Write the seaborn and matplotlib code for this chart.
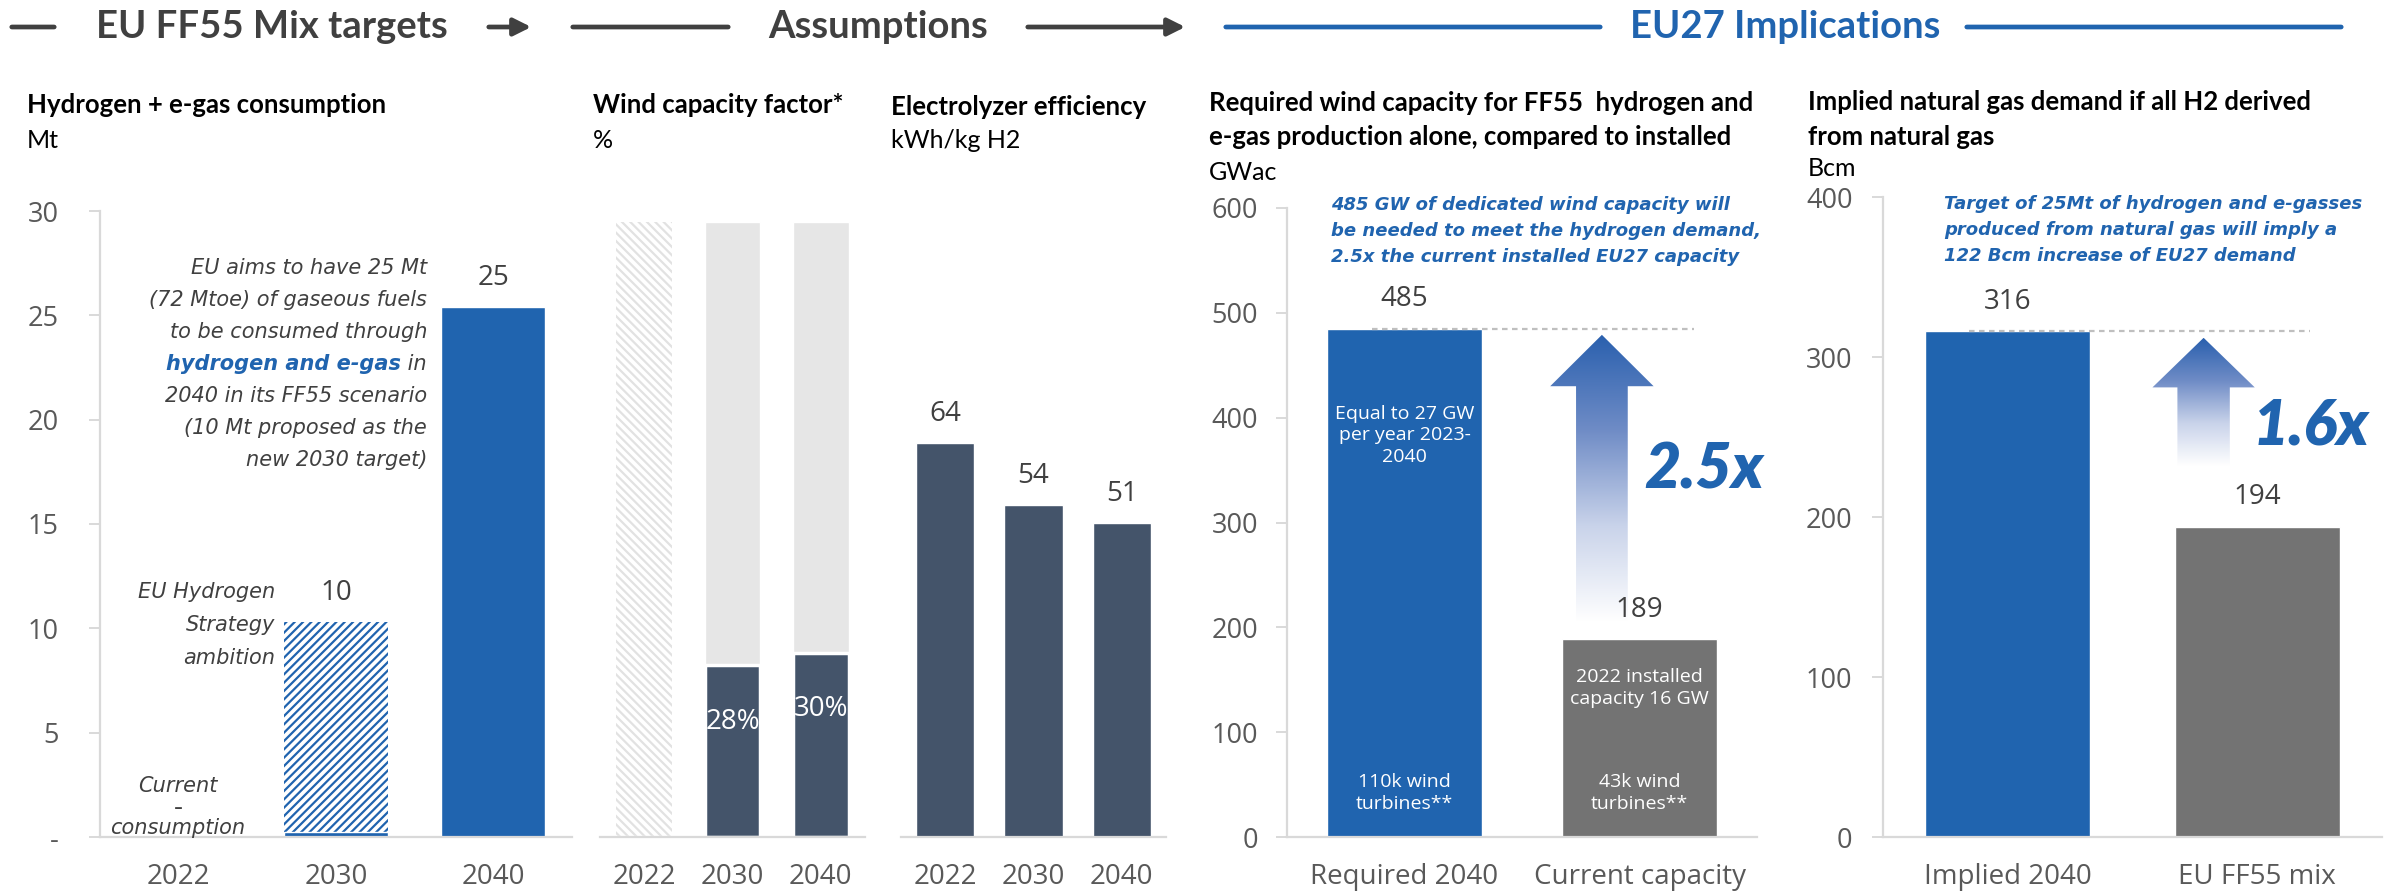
import numpy as np
import matplotlib
matplotlib.use("Agg")
import matplotlib.pyplot as plt
import matplotlib.patches as mpatches
from matplotlib.colors import LinearSegmentedColormap
import seaborn as sns

sns.set_style("white")
plt.rcParams["font.family"] = ["Open Sans", "DejaVu Sans"]
plt.rcParams["hatch.linewidth"] = 1.6

# ---- data ----
h2_years = ["2022", "2030", "2040"]
h2_solid = [0, 0.25, 25.4]      # consumed / solid part
h2_target = [0, 10.3, 0]        # hatched ambition part
h2_labels = ["-", "10", "25"]
h2_yticks = [0, 5, 10, 15, 20, 25, 30]
h2_yticklabels = ["-", "5", "10", "15", "20", "25", "30"]

cf_years = ["2022", "2030", "2040"]
cf_full = [1, 1, 1]
cf_values = [0, 0.28, 0.30]
cf_labels = ["", "28%", "30%"]

el_years = ["2022", "2030", "2040"]
el_values = [64, 54, 51]

wind_cats = ["Required 2040", "Current capacity"]
wind_values = [485, 189]
wind_notes_top = ["Equal to 27 GW\nper year 2023-\n2040", "2022 installed\ncapacity 16 GW"]
wind_notes_bottom = ["110k wind\nturbines**", "43k wind\nturbines**"]
wind_ratio = "2.5x"

gas_cats = ["Implied 2040", "EU FF55 mix"]
gas_values = [316, 194]
gas_ratio = "1.6x"

BLUE = "#2064AF"
SLATE = "#44546A"
GRAY = "#737373"
LIGHTBAR = "#E6E6E6"
LINE = "#D9D9D9"
TXT = "#404040"
TICK = "#595959"

W, H = 2392, 893
fig = plt.figure(figsize=(W / 100, H / 100), dpi=100)


def add_ax(x0, x1, ytop, ybot):
    return fig.add_axes([x0 / W, 1 - ybot / H, (x1 - x0) / W, (ybot - ytop) / H])


def ftext(x, y, s, **kw):
    return fig.text(x / W, 1 - y / H, s, **kw)


def style(ax, yaxis=True, ypad=14):
    ax.spines["top"].set_visible(False)
    ax.spines["right"].set_visible(False)
    ax.spines["bottom"].set_color(LINE)
    ax.spines["bottom"].set_linewidth(1.6)
    if yaxis:
        ax.spines["left"].set_color(LINE)
        ax.spines["left"].set_linewidth(1.6)
        ax.tick_params(axis="y", length=8, width=1.4, color=LINE, labelsize=19.5,
                       labelcolor=TICK, pad=ypad, left=True)
    else:
        ax.spines["left"].set_visible(False)
        ax.set_yticks([])
    ax.tick_params(axis="x", length=0, labelsize=20, labelcolor=TICK, pad=19)
    ax.set_xlabel("")
    ax.set_ylabel("")


def value_labels(ax, vals, labels, off=21):
    for i, (v, lab) in enumerate(zip(vals, labels)):
        ax.annotate(lab, (i, v), xytext=(0, off), textcoords="offset points",
                    ha="center", va="center", fontsize=20, color=TXT)


cmap = LinearSegmentedColormap.from_list("fade", ["#FFFFFF", "#C9D3EA", "#6F8CC6", "#2A60AE"])


def grad_arrow(ax, xc, shaft_w, head_w, y_tip, y_head, y_bot):
    verts = [(xc - shaft_w / 2, y_bot), (xc - shaft_w / 2, y_head), (xc - head_w / 2, y_head),
             (xc, y_tip), (xc + head_w / 2, y_head), (xc + shaft_w / 2, y_head),
             (xc + shaft_w / 2, y_bot)]
    poly = mpatches.Polygon(verts, closed=True, facecolor="none", edgecolor="none")
    ax.add_patch(poly)
    grad = np.linspace(1, 0, 256).reshape(-1, 1)
    ax.imshow(grad, cmap=cmap, extent=[xc - head_w / 2, xc + head_w / 2, y_bot, y_tip],
              aspect="auto", origin="upper", clip_path=poly, zorder=3)


# ---- headers ----
def hline(x0, x1, color, arrow=False):
    p = mpatches.FancyArrowPatch((x0 / W, 1 - 27 / H), (x1 / W, 1 - 27 / H),
                                 transform=fig.transFigure,
                                 arrowstyle="-|>" if arrow else "-",
                                 mutation_scale=26, lw=3.4, color=color)
    fig.add_artist(p)


head = dict(ha="center", va="center", fontsize=27.5, fontweight="bold", family="Lato")
hline(9, 57, TXT)
ftext(272, 27, "EU FF55 Mix targets", color=TXT, **head)
hline(486, 534, TXT, arrow=True)
hline(570, 731, TXT)
ftext(878, 27, "Assumptions", color=TXT, **head)
hline(1025, 1188, TXT, arrow=True)
hline(1223, 1603, BLUE)
ftext(1785, 27, "EU27 Implications", color=BLUE, **head)
hline(1964, 2344, BLUE)

# subtitles
sub = dict(fontsize=18.5, fontweight="bold", family="Lato", color="black", va="center", ha="left")
unit = dict(fontsize=18, family="Lato", color="black", va="center", ha="left")
ftext(27, 105, "Hydrogen + e-gas consumption", **sub)
ftext(27, 140, "Mt", **unit)
ftext(593, 105, "Wind capacity factor*", **sub)
ftext(593, 140, "%", **unit)
ftext(891, 107, "Electrolyzer efficiency", **sub)
ftext(891, 140, "kWh/kg H2", **unit)
ftext(1209, 103, "Required wind capacity for FF55  hydrogen and", **sub)
ftext(1209, 137, "e-gas production alone, compared to installed", **sub)
ftext(1209, 172, "GWac", **unit)
ftext(1808, 102, "Implied natural gas demand if all H2 derived", **sub)
ftext(1808, 137, "from natural gas", **sub)
ftext(1808, 168, "Bcm", **unit)

# ---- panel 1: hydrogen + e-gas consumption ----
ax1 = add_ax(100, 572, 211, 837)
sns.barplot(x=h2_years, y=h2_target, ax=ax1, color="white", width=0.66, saturation=1)
for p in ax1.patches:
    p.set_hatch("////")
    p.set_edgecolor(BLUE)
    p.set_linewidth(0)
sns.barplot(x=h2_years, y=h2_solid, ax=ax1, color=BLUE, width=0.66, saturation=1)
ax1.set_ylim(0, 30)
ax1.set_xlim(-0.5, 2.5)
ax1.set_yticks(h2_yticks)
ax1.set_yticklabels(h2_yticklabels)
style(ax1, ypad=22)
value_labels(ax1, [max(a, b) for a, b in zip(h2_solid, h2_target)], h2_labels)

ital = dict(fontsize=15, fontstyle="italic", family="DejaVu Sans", color=TXT, va="center")
p1_lines = ["EU aims to have 25 Mt", "(72 Mtoe) of gaseous fuels", "to be consumed through",
            None, "2040 in its FF55 scenario", "(10 Mt proposed as the", "new 2030 target)"]
for k, s in enumerate(p1_lines):
    y = 268 + 32 * k
    if s is None:
        t_in = ftext(427, y, " in", ha="right", **ital)
        bb = t_in.get_window_extent(fig.canvas.get_renderer())
        ftext(bb.x0, y, "hydrogen and e-gas", ha="right", fontsize=15, fontstyle="italic",
              fontweight="bold", family="DejaVu Sans", color=BLUE, va="center")
    else:
        ftext(427, y, s, ha="right", **ital)
for k, s in enumerate(["EU Hydrogen", "Strategy", "ambition"]):
    ftext(275, 592 + 33 * k, s, ha="right", **ital)
ftext(178, 786, "Current", ha="center", **ital)
ftext(178, 828, "consumption", ha="center", **ital)

# ---- panel 2: wind capacity factor ----
ax2 = add_ax(600, 865, 222, 837)
sns.barplot(x=cf_years, y=cf_full, ax=ax2, color=LIGHTBAR, width=0.63, saturation=1)
p0 = ax2.patches[0]
p0.set_facecolor("white")
p0.set_hatch("\\\\\\\\")
p0.set_edgecolor("#E2E2E2")
p0.set_linewidth(0)
sns.barplot(x=cf_years, y=cf_values, ax=ax2, color=SLATE, width=0.63, saturation=1,
            edgecolor="white", linewidth=2.5)
ax2.set_ylim(0, 1)
ax2.set_xlim(-0.5, 2.5)
style(ax2, yaxis=False)
for i, (v, lab) in enumerate(zip(cf_values, cf_labels)):
    ax2.annotate(lab, (i, v), xytext=(0, -41), textcoords="offset points",
                 ha="center", va="center", fontsize=20, color="white")

# ---- panel 3: electrolyzer efficiency ----
ax3 = add_ax(901, 1166, 222, 837)
sns.barplot(x=el_years, y=el_values, ax=ax3, color=SLATE, width=0.66, saturation=1)
ax3.set_ylim(0, 100)
ax3.set_xlim(-0.5, 2.5)
style(ax3, yaxis=False)
value_labels(ax3, el_values, [str(v) for v in el_values])

# ---- panel 4: required wind capacity ----
ax4 = add_ax(1287, 1757, 208, 837)
sns.barplot(x=wind_cats, y=wind_values, hue=wind_cats, palette=[BLUE, GRAY], ax=ax4,
            width=0.66, saturation=1, legend=False)
ax4.hlines(wind_values[0], -0.14, 1.23, color="#BFBFBF", lw=1.6, linestyles=(0, (2.5, 2)), zorder=4)
grad_arrow(ax4, 0.84, 0.22, 0.44, 479, 430, 205)
ax4.set_ylim(0, 600)
ax4.set_xlim(-0.5, 1.5)
ax4.set_yticks([0, 100, 200, 300, 400, 500, 600])
style(ax4, ypad=13)
value_labels(ax4, wind_values, [str(v) for v in wind_values])
inbar = dict(ha="center", va="center", fontsize=14, color="white", linespacing=1.25)
ax4.text(0, 383, wind_notes_top[0], **inbar)
ax4.text(1, 142, wind_notes_top[1], **inbar)
for i, s in enumerate(wind_notes_bottom):
    ax4.text(i, 42, s, **inbar)
ax4.text(1.02, 350, wind_ratio, ha="left", va="center", fontsize=45, fontweight="heavy",
         fontstyle="italic", family="Lato", color=BLUE)
ftext(1331, 231, "485 GW of dedicated wind capacity will\nbe needed to meet the hydrogen demand,\n"
      "2.5x the current installed EU27 capacity", ha="left", va="center", fontsize=13,
      fontweight="bold", fontstyle="italic", family="DejaVu Sans", color=BLUE, linespacing=1.6)

# ---- panel 5: implied natural gas demand ----
ax5 = add_ax(1883, 2382, 197, 837)
sns.barplot(x=gas_cats, y=gas_values, hue=gas_cats, palette=[BLUE, GRAY], ax=ax5,
            width=0.66, saturation=1, legend=False)
ax5.hlines(gas_values[0], -0.155, 1.21, color="#BFBFBF", lw=1.6, linestyles=(0, (2.5, 2)), zorder=4)
grad_arrow(ax5, 0.785, 0.21, 0.41, 312, 281, 232)
ax5.set_ylim(0, 400)
ax5.set_xlim(-0.5, 1.5)
ax5.set_yticks([0, 100, 200, 300, 400])
style(ax5, ypad=14)
value_labels(ax5, gas_values, [str(v) for v in gas_values])
ax5.text(0.98, 257, gas_ratio, ha="left", va="center", fontsize=45, fontweight="heavy",
         fontstyle="italic", family="Lato", color=BLUE)
ftext(1944, 230, "Target of 25Mt of hydrogen and e-gasses\nproduced from natural gas will imply a\n"
      "122 Bcm increase of EU27 demand", ha="left", va="center", fontsize=13,
      fontweight="bold", fontstyle="italic", family="DejaVu Sans", color=BLUE, linespacing=1.6)

fig.savefig("out.png", dpi=100)
